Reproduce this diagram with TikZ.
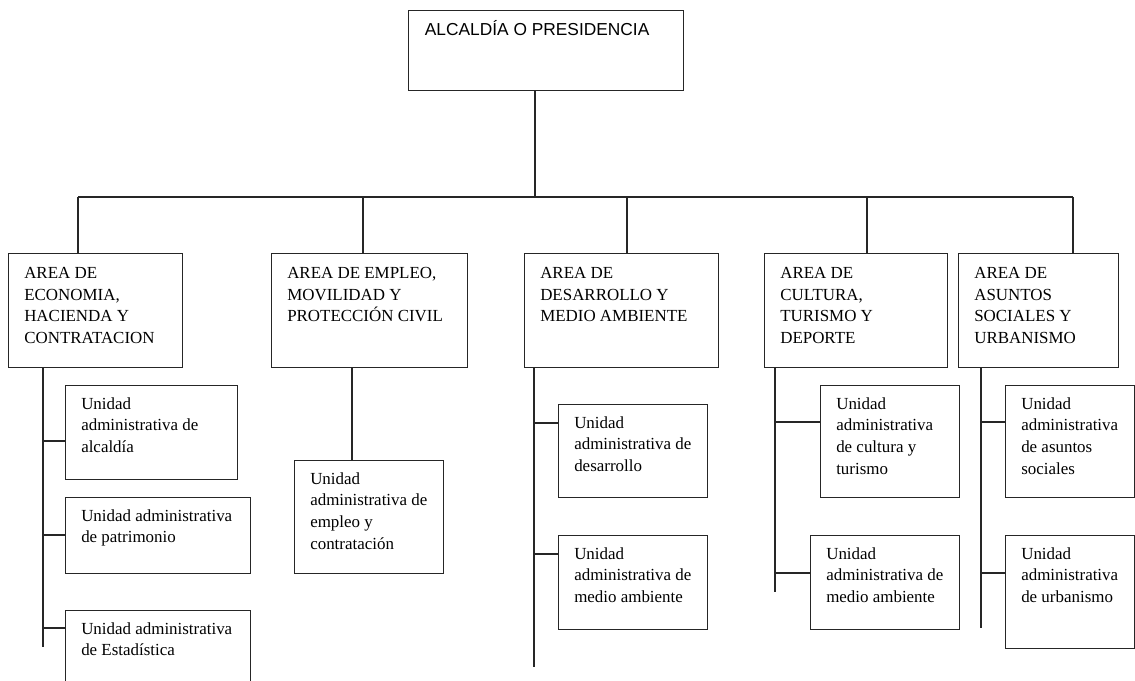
\documentclass[tikz,border=0pt]{standalone}
\usepackage{fontspec}
\setmainfont{Liberation Serif}
\newfontfamily\headfont{Liberation Sans}
\tikzset{
  orgbox/.style 2 args={draw=black!85, line width=1pt, anchor=north west, inner sep=0pt,
    minimum width=#1*0.75pt, minimum height=#2*0.75pt},
  boxtext/.style={anchor=north west, align=left, inner xsep=12pt, inner ysep=9pt,
    font=\fontsize{12.7pt}{16.25pt}\selectfont},
  areatext/.style={boxtext, inner ysep=10.5pt},
  headtext/.style={anchor=north west, align=left, inner xsep=12.5pt, inner ysep=7.5pt,
    font=\headfont\fontsize{13pt}{15pt}\selectfont},
  link/.style={draw=black!85, line width=1pt},
}
\begin{document}
\begin{tikzpicture}[x=0.75pt, y=-0.75pt]
    \useasboundingbox (0,0) rectangle (1135,681);
    % Top box
    \node[orgbox={275}{80}] (top) at (408,10) {};
    \node[headtext] (topt) at (top.north west) {ALCALDÍA O PRESIDENCIA};
    % Area boxes
    \node[orgbox={174}{114}] (a1) at (8,253) {};
    \node[orgbox={196}{114}] (a2) at (271,253) {};
    \node[orgbox={194}{114}] (a3) at (524,253) {};
    \node[orgbox={183}{114}] (a4) at (764,253) {};
    \node[orgbox={160}{114}] (a5) at (958,253) {};
    \node[areatext] (a1t) at (a1.north west) {AREA DE\\ECONOMIA,\\HACIENDA Y\\CONTRATACION};
    \node[areatext] (a2t) at (a2.north west) {AREA DE EMPLEO,\\MOVILIDAD Y\\PROTECCIÓN CIVIL};
    \node[areatext] (a3t) at (a3.north west) {AREA DE\\DESARROLLO Y\\MEDIO AMBIENTE};
    \node[areatext] (a4t) at (a4.north west) {AREA DE\\CULTURA,\\TURISMO Y\\DEPORTE};
    \node[areatext] (a5t) at (a5.north west) {AREA DE\\ASUNTOS\\SOCIALES Y\\URBANISMO};
    % Unit boxes
    \node[orgbox={172}{94}] (u11) at (65,385) {};
    \node[orgbox={185}{76}] (u12) at (65,497) {};
    \node[orgbox={185}{95}] (u13) at (65,610) {};
    \node[orgbox={149}{113}] (u21) at (294,460) {};
    \node[orgbox={149}{93}] (u31) at (558,404) {};
    \node[orgbox={149}{94}] (u32) at (558,535) {};
    \node[orgbox={139}{112}] (u41) at (820,385) {};
    \node[orgbox={149}{94}] (u42) at (810,535) {};
    \node[orgbox={129}{112}] (u51) at (1005,385) {};
    \node[orgbox={129}{113}] (u52) at (1005,535) {};
    \node[boxtext] (u11t) at (u11.north west) {Unidad\\administrativa de\\alcaldía};
    \node[boxtext] (u12t) at (u12.north west) {Unidad administrativa\\de patrimonio};
    \node[boxtext] (u13t) at (u13.north west) {Unidad administrativa\\de Estadística};
    \node[boxtext] (u21t) at (u21.north west) {Unidad\\administrativa de\\empleo y\\contratación};
    \node[boxtext] (u31t) at (u31.north west) {Unidad\\administrativa de\\desarrollo};
    \node[boxtext] (u32t) at (u32.north west) {Unidad\\administrativa de\\medio ambiente};
    \node[boxtext] (u41t) at (u41.north west) {Unidad\\administrativa\\de cultura y\\turismo};
    \node[boxtext] (u42t) at (u42.north west) {Unidad\\administrativa de\\medio ambiente};
    \node[boxtext] (u51t) at (u51.north west) {Unidad\\administrativa\\de asuntos\\sociales};
    \node[boxtext] (u52t) at (u52.north west) {Unidad\\administrativa\\de urbanismo};
    % Top to bar
    \coordinate (d0) at (535,197);
    \draw[link] (d0 |- top.south) -- (d0);
    % Bar and drops to the areas
    \foreach \n/\x in {1/78,2/363,3/627,4/867,5/1073} {
      \coordinate (d\n) at (\x,197);
      \draw[link] (d\n) -- (d\n |- a\n.north);
    }
    \draw[link] (d1) -- (d5);
    % Spines under the areas
    \foreach \n/\x/\y in {1/43/647,2/352/460,3/534/667,4/775/592,5/981/628} {
      \coordinate (e\n) at (\x,\y);
      \draw[link] (e\n |- a\n.south) -- (e\n);
    }
    % Branches to the units
    \foreach \u/\x/\y in {u11/43/441,u12/43/535,u13/43/628,u31/534/423,u32/534/554,
                          u41/775/422,u42/775/573,u51/981/422,u52/981/573} {
      \coordinate (b) at (\x,\y);
      \draw[link] (b) -- (b -| \u.west);
    }
\end{tikzpicture}
\end{document}
